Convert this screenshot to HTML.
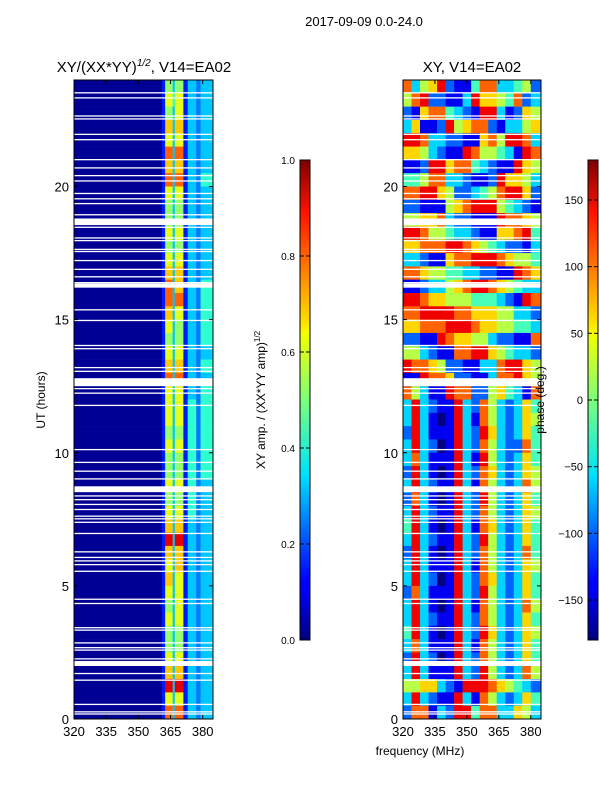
<!DOCTYPE html>
<html><head><meta charset="utf-8">
<style>
body{margin:0;background:#fff;}
svg{display:block;font-family:"Liberation Sans",sans-serif;}
</style></head>
<body>
<svg id="fig" width="600" height="800" viewBox="0 0 600 800" xmlns="http://www.w3.org/2000/svg">
<rect width="600" height="800" fill="#fff"/>
<text x="364" y="26" font-size="13" text-anchor="middle">2017-09-09 0.0-24.0</text>
<text x="144" y="72" font-size="15" text-anchor="middle">XY/(XX*YY)<tspan font-size="10" dy="-6" font-style="italic">1/2</tspan><tspan dy="6">, V14=EA02</tspan></text>
<text x="472" y="72" font-size="15" text-anchor="middle">XY, V14=EA02</text>
<g id="left"></g>
<g id="right"></g>
<g id="axes"></g>
<text x="420" y="755" font-size="12" text-anchor="middle">frequency (MHz)</text>
<text transform="translate(45,400) rotate(-90)" font-size="12" text-anchor="middle">UT (hours)</text>
<text transform="translate(265,400) rotate(-90)" font-size="12" text-anchor="middle">XY amp. / (XX*YY amp)<tspan font-size="8" dy="-5">1/2</tspan></text>
<text transform="translate(544,400) rotate(-90)" font-size="12" text-anchor="middle">phase (deg.)</text>
<defs>
<linearGradient id="jet" x1="0" y1="1" x2="0" y2="0">
<stop offset="0" stop-color="#00007f"/><stop offset="0.11" stop-color="#0000ff"/><stop offset="0.125" stop-color="#0000ff"/>
<stop offset="0.34" stop-color="#00dcff"/><stop offset="0.35" stop-color="#00e4f8"/><stop offset="0.5" stop-color="#7cff79"/>
<stop offset="0.64" stop-color="#f6ff00"/><stop offset="0.66" stop-color="#ffe200"/><stop offset="0.89" stop-color="#ff1300"/>
<stop offset="1" stop-color="#7f0000"/></linearGradient>
</defs>
<rect x="300" y="160" width="10" height="480" fill="url(#jet)" stroke="#000" stroke-width="1"/>
<rect x="588" y="160" width="10" height="480" fill="url(#jet)" stroke="#000" stroke-width="1"/>
<g id="cb"></g>
</svg>
<script>
// ---------- data ----------
const ampFreqEdges=[320,361,362.5,366,367,371,373,377,379,384.8];
const ampLevels=[0.02,0.15,0.24,0.32,0.42,0.52,0.6,0.68,0.78,0.9]; // digit -> amplitude
const ampRows=[ // top (24h) to bottom (0h), each 0.5 h
"015351323","016461323","015361323","017371323","016361323","018381323","017371323","018381324",
"016361323","015351323","015351323","016361323","015351323","016361323","017371323","018371324",
"018381324","017361324","016351324","015351324","016361323","017371324","018381323","016361324",
"016361424","016361424","015351424","016361424","015351424","015351424","016361423","015351423",
"016361423","017371323","019391323","017371323","016371323","017361323","016361323","015361323",
"016361323","015351323","015351323","016361323","017371323","019391323","016361323","018381323"];
const phaseFreqEdges=[320,324,328,332,336,340,344,348,352,356,360,364,368,372,376,380,384.8];
const phaseRows=[ // digit 0..9 -> -180..180 deg
"7356821147733452","5782211386654723","2167743218831265","3611285677213356","8873322116758873","6653211875543187",
"1128867743211865","4457733211286653","7788652234578862","2211156788854321","5566732211187765","8875543321166784",
"6677788765432213","3321167788876554","7765544332211876","1123356788765433","8876655544432187","7788887766655332",
"6677788876655443","2211876655322117","5532117788654332","8776522113378865","1187762211377865","7531187722564317",
"3832118327532364","3831018317532365","2831118328632364","3832018327532274","3731118318532364","2831018327632365",
"3832118317532375","2731018328532364","3832118327532365","4831018317632364","3832118328532364","2831018327532374",
"3831118317532365","3832018327632364","2731118328532364","3831018317532375","3832118327532364","4831018328632365",
"3731118317532364","2832018327532364","3831118328532375","5566321888765432","3832118317532364","2771328847733653"];
const thickGaps=[[18.55,18.8],[12.5,12.8],[16.2,16.36],[8.52,8.74],[1.99,2.18]];
const thinGaps=[23.52,23.33,22.65,22.54,21.96,21.76,21.01,20.70,20.41,20.21,19.74,19.54,19.36,18.94,18.47,18.07,17.97,17.64,17.56,17.22,16.89,16.61,16.39,15.37,14.97,14.03,13.91,13.20,13.06,12.41,12.24,11.78,10.12,9.64,9.31,9.02,8.38,8.24,8.06,7.87,7.62,7.52,7.39,6.97,6.28,6.07,5.94,5.80,5.55,4.50,4.34,3.43,3.34,2.86,2.68,2.59,2.26,1.71,1.46,0.55,0.27,0.19];
const xTicks=[320,335,350,365,380];
const yTicks=[0,5,10,15,20];
const ampTicks=["0.0","0.2","0.4","0.6","0.8","1.0"];
const phaseTicks=[-150,-100,-50,0,50,100,150];
// ---------- helpers ----------
const NS="http://www.w3.org/2000/svg";
const Y0=719,Y1=80,HMAX=24;
function yScale(h){return Y0-(h/HMAX)*(Y0-Y1);}
function xScaleL(f){return 74+(f-320)/(384.8-320)*139;}
function xScaleR(f){return 403+(f-320)/(384.8-320)*138;}
function jet(v){v=Math.max(0,Math.min(1,v));
 const r=Math.max(0,Math.min(1,1.5-Math.abs(4*v-3))),g=Math.max(0,Math.min(1,1.5-Math.abs(4*v-2))),b=Math.max(0,Math.min(1,1.5-Math.abs(4*v-1)));
 return `rgb(${Math.round(r*255)},${Math.round(g*255)},${Math.round(b*255)})`;}
function mk(tag,attrs,parent){const e=document.createElementNS(NS,tag);for(const k in attrs)e.setAttribute(k,attrs[k]);parent.appendChild(e);return e;}
function drawHeat(g,rows,edges,xs,valFn,name){
 const n=rows.length;
 rows.forEach((row,i)=>{
  const hTop=HMAX-i*HMAX/n,hBot=HMAX-(i+1)*HMAX/n;
  for(let j=0;j<row.length;j++){
   const v=valFn(parseInt(row[j]));
   const x0=xs(edges[j]),x1=xs(edges[j+1]);
   const r=mk('rect',{x:x0,y:yScale(hTop),width:x1-x0+0.3,height:yScale(hBot)-yScale(hTop)+0.3,fill:jet(v)},g);
   
   
  }
 });
 thickGaps.forEach(gp=>{const r=mk('rect',{x:xs(320),y:yScale(gp[1]),width:xs(384.8)-xs(320),height:yScale(gp[0])-yScale(gp[1]),fill:'#fff'},g);
  
  });
 thinGaps.forEach(h=>{const r=mk('rect',{x:xs(320),y:yScale(h)-0.6,width:xs(384.8)-xs(320),height:1.3,fill:'#fff'},g);
  
  });
}
drawHeat(document.getElementById('left'),ampRows,ampFreqEdges,xScaleL,d=>ampLevels[d],'amp');
drawHeat(document.getElementById('right'),phaseRows,phaseFreqEdges,xScaleR,d=>d/9,'phase');
// axes
const ax=document.getElementById('axes');
[[74,213,xScaleL],[403,541,xScaleR]].forEach(([a,b,xs],k)=>{
 const fr=mk('rect',{x:a,y:Y1,width:b-a,height:Y0-Y1,fill:'none',stroke:'#000','stroke-width':1},ax);
 
 
 xTicks.forEach(t=>{const x=xs(t);
  mk('line',{x1:x,y1:Y0,x2:x,y2:Y0-4,stroke:'#000'},ax);mk('line',{x1:x,y1:Y1,x2:x,y2:Y1+4,stroke:'#000'},ax);
  const tx=mk('text',{x:x,y:Y0+17,'font-size':13,'text-anchor':'middle'},ax);tx.textContent=t;
  
  });
 yTicks.forEach(t=>{const y=yScale(t);
  mk('line',{x1:a,y1:y,x2:a+4,y2:y,stroke:'#000'},ax);mk('line',{x1:b,y1:y,x2:b-4,y2:y,stroke:'#000'},ax);
  const tx=mk('text',{x:a-5,y:y+5,'font-size':13,'text-anchor':'end'},ax);tx.textContent=t;
  
  });
});
// colorbar ticks
const cb=document.getElementById('cb');
ampTicks.forEach((t,i)=>{const y=640-i*96;
 mk('line',{x1:300,y1:y,x2:304,y2:y,stroke:'#000'},cb);mk('line',{x1:310,y1:y,x2:306,y2:y,stroke:'#000'},cb);
 const tx=mk('text',{x:295,y:y+4,'font-size':10,'text-anchor':'end'},cb);tx.textContent=t;
 
 });
phaseTicks.forEach(t=>{const y=640-(t+180)/360*480;
 mk('line',{x1:588,y1:y,x2:592,y2:y,stroke:'#000'},cb);mk('line',{x1:598,y1:y,x2:594,y2:y,stroke:'#000'},cb);
 const tx=mk('text',{x:583,y:y+4,'font-size':11,'text-anchor':'end'},cb);tx.textContent=(t<0?'\u2212'+(-t):t);
 
 });
</script>
</body></html>
